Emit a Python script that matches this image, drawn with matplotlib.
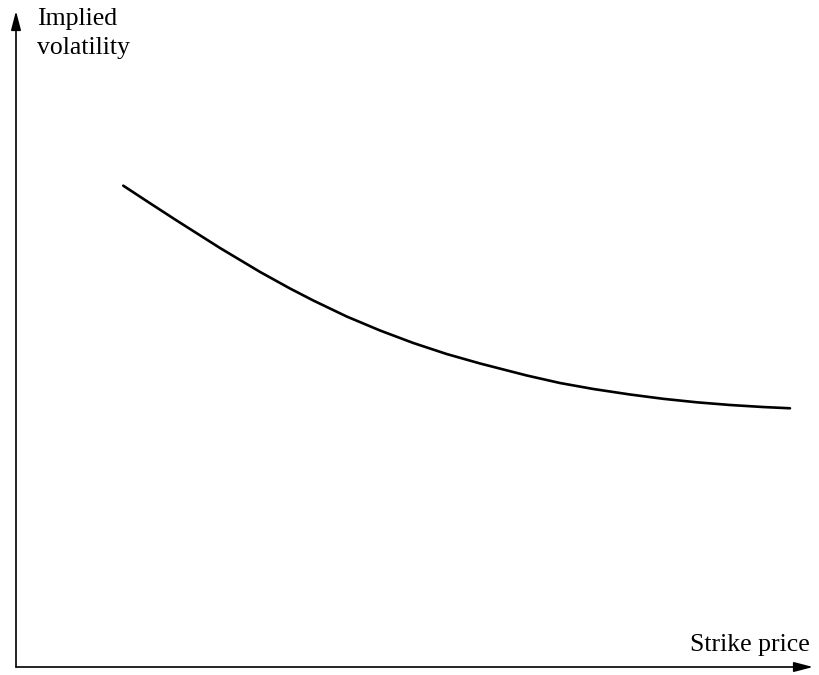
import matplotlib
matplotlib.use("Agg")
import matplotlib.pyplot as plt

# points (axis units 0-100 along each axis)
strike = [13.46, 16.81, 20.16, 25.60, 30.61, 34.38, 37.30, 41.49, 45.67, 49.85,
          54.04, 58.22, 64.08, 68.26, 72.43, 77.04, 81.22, 85.41, 89.59, 93.76,
          97.11]
implied_vol = [73.37, 70.70, 68.06, 63.87, 60.23, 57.70, 55.87, 53.43, 51.30,
               49.39, 47.71, 46.27, 44.44, 43.29, 42.38, 41.54, 40.88, 40.35,
               39.94, 39.63, 39.44]

plt.rcParams['font.family'] = ['Liberation Serif', 'DejaVu Serif']

W, H = 819, 675
fig = plt.figure(figsize=(W / 100, H / 100), dpi=100)
# axes box runs from the origin to the two arrow tips
ax = fig.add_axes([16 / W, (H - 667) / H, 797 / W, 656 / H])
ax.set_xlim(0, 100)
ax.set_ylim(0, 100)
ax.axis('off')

ax.plot(strike, implied_vol, color='black', lw=1.9, solid_capstyle='round')

arrow = dict(arrowstyle='-|>,head_length=1.15,head_width=0.3', color='black',
             lw=1.2, mutation_scale=10, shrinkA=0, shrinkB=0)
ax.annotate('', xy=(1, 0), xytext=(0, 0), xycoords='axes fraction',
            arrowprops=arrow, annotation_clip=False)
ax.annotate('', xy=(0, 1), xytext=(0, 0), xycoords='axes fraction',
            arrowprops=arrow, annotation_clip=False)

fs = 18.5
fig.text(37 / W, 1 - 25 / H, 'Implied', ha='left', va='baseline', fontsize=fs)
fig.text(37 / W, 1 - 54 / H, 'volatility', ha='left', va='baseline', fontsize=fs)
fig.text(810 / W, 1 - 651 / H, 'Strike price', ha='right', va='baseline',
         fontsize=fs)

fig.savefig('out.png', dpi=100, facecolor='white')
